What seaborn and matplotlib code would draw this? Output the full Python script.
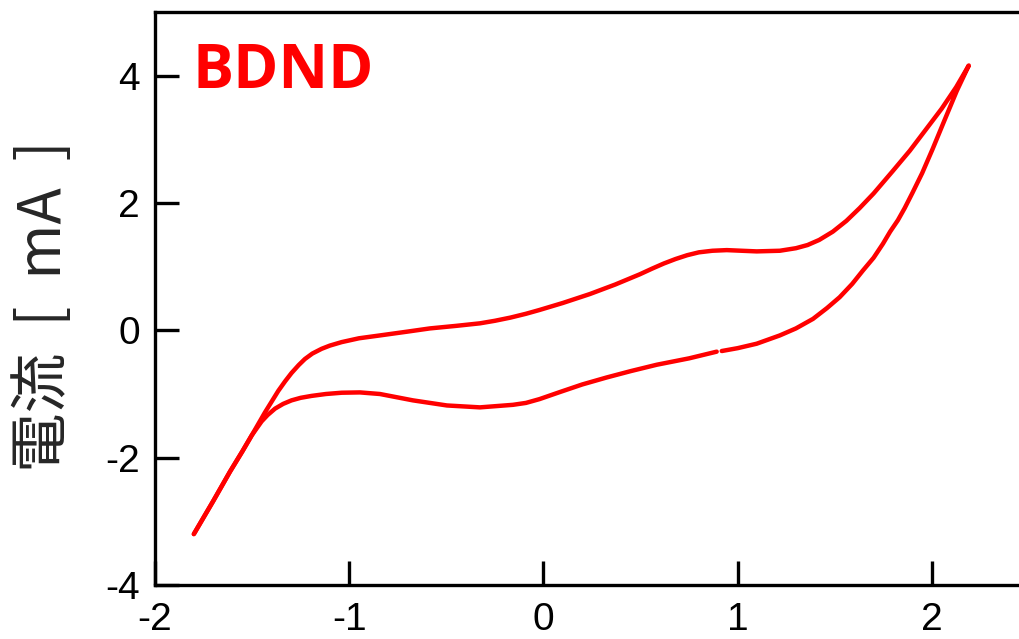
import numpy as np
import pandas as pd
import seaborn as sns
import matplotlib.pyplot as plt

# potential [V] and current [mA]
fwd_x = [-1.80, -1.70, -1.614, -1.55, -1.502, -1.434, -1.365, -1.33, -1.297, -1.26,
         -1.228, -1.19, -1.142, -1.10, -1.039, -0.95, -0.842, -0.70, -0.585, -0.45,
         -0.327, -0.25, -0.17, -0.09, -0.02, 0.10, 0.239, 0.37, 0.496, 0.56,
         0.62, 0.68, 0.74, 0.80, 0.87, 0.944, 1.02, 1.098, 1.217, 1.30,
         1.36, 1.42, 1.49, 1.56, 1.628, 1.70, 1.798, 1.886, 1.973, 2.05,
         2.125, 2.19]
fwd_y = [-3.20, -2.68, -2.22, -1.90, -1.65, -1.29, -0.95, -0.80, -0.67, -0.545,
         -0.45, -0.365, -0.29, -0.24, -0.185, -0.125, -0.08, -0.02, 0.03, 0.07,
         0.11, 0.15, 0.20, 0.26, 0.32, 0.43, 0.57, 0.72, 0.88, 0.97,
         1.05, 1.12, 1.18, 1.225, 1.25, 1.26, 1.25, 1.24, 1.25, 1.29,
         1.34, 1.42, 1.55, 1.72, 1.92, 2.15, 2.50, 2.82, 3.17, 3.48,
         3.82, 4.16]

rev1_x = [2.19, 2.128, 2.065, 2.004, 1.95, 1.90, 1.86, 1.825, 1.785, 1.748,
          1.70, 1.645, 1.59, 1.525, 1.46, 1.388, 1.30, 1.217, 1.098, 1.00,
          0.918]
rev1_y = [4.16, 3.76, 3.30, 2.85, 2.47, 2.16, 1.92, 1.73, 1.55, 1.36,
          1.14, 0.94, 0.73, 0.52, 0.35, 0.18, 0.03, -0.08, -0.21, -0.28,
          -0.325]

rev2_x = [0.892, 0.75, 0.584, 0.45, 0.326, 0.20, 0.084, -0.02, -0.09, -0.157,
          -0.327, -0.497, -0.672, -0.842, -0.945, -1.039, -1.12, -1.194, -1.25, -1.297,
          -1.34, -1.382, -1.42, -1.451, -1.502, -1.55, -1.614, -1.70, -1.80]
rev2_y = [-0.335, -0.44, -0.54, -0.64, -0.74, -0.85, -0.97, -1.08, -1.14, -1.17,
          -1.21, -1.18, -1.10, -1.00, -0.975, -0.98, -1.00, -1.03, -1.06, -1.10,
          -1.155, -1.23, -1.33, -1.43, -1.65, -1.90, -2.22, -2.68, -3.20]

x_ticks = [-2, -1, 0, 1, 2]
y_ticks = [-4, -2, 0, 2, 4]

df = pd.DataFrame({
    'E': fwd_x + rev1_x + rev2_x,
    'I': fwd_y + rev1_y + rev2_y,
    'seg': [0] * (len(fwd_x) + len(rev1_x)) + [1] * len(rev2_x),
})

sns.set_style('ticks')
plt.rcParams['font.family'] = ['Liberation Sans', 'DejaVu Sans']
plt.rcParams['axes.unicode_minus'] = False

fig = plt.figure(figsize=(10.2, 6.39), dpi=100)
ax = fig.add_axes([155 / 1020, 54 / 639, 874 / 1020, 573 / 639])

sns.lineplot(data=df, x='E', y='I', units='seg', estimator=None, sort=False,
             color='#ff0000', lw=3.2, ax=ax)

ax.set_xlim(-2, 2.5)
ax.set_ylim(-4, 5)
ax.set_xticks(x_ticks)
ax.set_yticks(y_ticks)
ax.set_xticklabels([str(t) for t in x_ticks])
ax.set_yticklabels([str(t) for t in y_ticks])
ax.tick_params(direction='in', length=17, width=2.4, labelsize=28, colors='black')
ax.tick_params(axis='x', pad=12)
ax.tick_params(axis='y', pad=11)
for s in ['left', 'bottom', 'top']:
    ax.spines[s].set_linewidth(2.4)
    ax.spines[s].set_color('black')
ax.spines['right'].set_visible(False)

ax.set_xlabel('')
ax.set_ylabel('電流  [  mA  ]', fontsize=43, family=['Noto Sans CJK JP', 'DejaVu Sans'])
ax.yaxis.set_label_coords(-0.092, 0.487)

ax.text(38 / 874, 1 - 76 / 573, 'BDND', transform=ax.transAxes, color='#ff0000',
        fontsize=44, fontweight='bold', family=['Open Sans', 'DejaVu Sans'],
        ha='left', va='baseline')

fig.savefig('out.png', dpi=100)
